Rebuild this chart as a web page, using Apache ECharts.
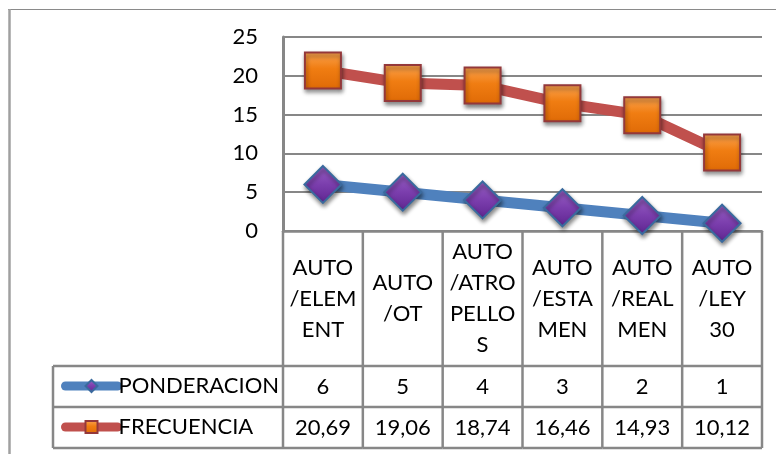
<!DOCTYPE html>
<html>
<head>
<meta charset="utf-8">
<script src="https://cdn.jsdelivr.net/npm/echarts@6/dist/echarts.min.js"></script>
<style>
html,body{margin:0;padding:0;background:#fff;}
#main{width:776px;height:454px;}
</style>
</head>
<body>
<div id="main"></div>
<script>
const categories = ['AUTO/ELEMENT', 'AUTO/OT', 'AUTO/ATROPELLOS', 'AUTO/ESTAMEN', 'AUTO/REALMEN', 'AUTO/LEY 30'];
const categoryLabels = ['AUTO\n/ELEM\nENT', 'AUTO\n/OT', 'AUTO\n/ATRO\nPELLO\nS', 'AUTO\n/ESTA\nMEN', 'AUTO\n/REAL\nMEN', 'AUTO\n/LEY\n30'];
const ponderacion = [6, 5, 4, 3, 2, 1];
const frecuencia = [20.69, 19.06, 18.74, 16.46, 14.93, 10.12];
const ponderacionText = ['6', '5', '4', '3', '2', '1'];
const frecuenciaText = ['20,69', '19,06', '18,74', '16,46', '14,93', '10,12'];
const yTicks = [0, 5, 10, 15, 20, 25];

const FONT = 'Lato';
const FS = 22;
const GRID_COLOR = '#878787';
const HEADER_H = 135;
const ROW_H = 41;
const LEGEND_COL_W = 230;

const chart = echarts.init(document.getElementById('main'));

function renderTable(params, api) {
  const i = api.value(0);
  const p0 = api.coord([i, 0]);
  const w = api.size([1, 0])[0];
  const cx = p0[0];
  const y0 = p0[1];
  const xl = cx - w / 2;
  const xr = cx + w / 2;
  const yH = y0 + HEADER_H;
  const yR1 = yH + ROW_H;
  const yR2 = yR1 + ROW_H;
  const ls = { stroke: GRID_COLOR, lineWidth: 2.5 };
  const children = [
    { type: 'line', shape: { x1: xr, y1: y0, x2: xr, y2: yR2 }, style: ls },
    { type: 'line', shape: { x1: xl, y1: yH, x2: xr, y2: yH }, style: ls },
    { type: 'line', shape: { x1: xl, y1: yR1, x2: xr, y2: yR1 }, style: ls },
    { type: 'line', shape: { x1: xl, y1: yR2, x2: xr, y2: yR2 }, style: ls },
    { type: 'text', x: cx, y: (y0 + yH) / 2, style: { text: categoryLabels[i], fontFamily: FONT, fontSize: FS, lineHeight: 31, fill: '#000', align: 'center', verticalAlign: 'middle' } },
    { type: 'text', x: cx, y: (yH + yR1) / 2, style: { text: ponderacionText[i], fontFamily: FONT, fontSize: FS, fill: '#000', align: 'center', verticalAlign: 'middle' } },
    { type: 'text', x: cx, y: (yR1 + yR2) / 2, style: { text: frecuenciaText[i], fontFamily: FONT, fontSize: FS, fill: '#000', align: 'center', verticalAlign: 'middle' } }
  ];
  if (i === 0) {
    const xL = xl - LEGEND_COL_W;
    children.push(
      { type: 'line', shape: { x1: xl, y1: y0, x2: xl, y2: yR2 }, style: ls },
      { type: 'line', shape: { x1: xL, y1: yH, x2: xl, y2: yH }, style: ls },
      { type: 'line', shape: { x1: xL, y1: yR1, x2: xl, y2: yR1 }, style: ls },
      { type: 'line', shape: { x1: xL, y1: yR2, x2: xl, y2: yR2 }, style: ls },
      { type: 'line', shape: { x1: xL, y1: yH, x2: xL, y2: yR2 }, style: ls }
    );
  }
  return { type: 'group', children: children };
}

const option = {
  backgroundColor: '#fff',
  animation: false,
  textStyle: { fontFamily: FONT },
  grid: { left: 283, right: 14, top: 37, bottom: 223 },
  legend: {
    data: ['PONDERACION', 'FRECUENCIA'],
    orient: 'vertical',
    left: 61,
    top: 375,
    padding: 0,
    itemWidth: 52,
    itemHeight: 15,
    itemGap: 19,
    textStyle: { fontFamily: FONT, fontSize: FS, color: '#000', lineHeight: 22, padding: [0, 0, 0, -4] },
    lineStyle: { width: 9, cap: 'round' },
    selectedMode: false
  },
  xAxis: {
    type: 'category',
    data: categories,
    boundaryGap: true,
    axisLine: { show: true, lineStyle: { color: GRID_COLOR, width: 2.5 } },
    axisTick: { show: false },
    axisLabel: { show: false },
    splitLine: { show: false }
  },
  yAxis: {
    type: 'value',
    min: 0,
    max: 25,
    interval: 5,
    axisLine: { show: true, lineStyle: { color: GRID_COLOR, width: 3 } },
    axisTick: { show: false },
    axisLabel: {
      margin: 25,
      fontFamily: FONT,
      fontSize: FS,
      color: '#000',
      formatter: function (v) { return yTicks.indexOf(v) >= 0 ? String(v) : ''; }
    },
    splitLine: { show: true, lineStyle: { color: GRID_COLOR, width: 2 } }
  },
  series: [
    {
      name: 'PONDERACION',
      type: 'line',
      data: ponderacion,
      symbol: 'diamond',
      symbolSize: [37, 37],
      z: 3,
      lineStyle: { color: '#4F81BD', width: 11 },
      itemStyle: {
        color: new echarts.graphic.LinearGradient(0, 0, 0, 1, [
          { offset: 0, color: '#9A62C6' },
          { offset: 0.5, color: '#7B3EAD' },
          { offset: 1, color: '#5E2590' }
        ]),
        borderColor: '#3A6A9E',
        borderWidth: 2,
        shadowBlur: 4,
        shadowOffsetY: 3,
        shadowOffsetX: 1,
        shadowColor: 'rgba(0,0,0,0.45)'
      }
    },
    {
      name: 'FRECUENCIA',
      type: 'line',
      data: frecuencia,
      symbol: 'rect',
      symbolSize: [36, 36],
      z: 4,
      lineStyle: { color: '#C0504D', width: 11 },
      itemStyle: {
        color: new echarts.graphic.LinearGradient(0, 0, 0, 1, [
          { offset: 0, color: '#FBA552' },
          { offset: 0.45, color: '#F07D12' },
          { offset: 1, color: '#DF6A06' }
        ]),
        borderColor: '#94383A',
        borderWidth: 2,
        shadowBlur: 4,
        shadowOffsetY: 3,
        shadowOffsetX: 1,
        shadowColor: 'rgba(0,0,0,0.45)'
      }
    },
    {
      name: 'table',
      type: 'custom',
      data: categories.map(function (c, i) { return [i, 0]; }),
      encode: { x: 0, y: 1 },
      clip: false,
      silent: true,
      z: 1,
      renderItem: renderTable
    }
  ],
  graphic: [
    { type: 'line', shape: { x1: 8, y1: 9.5, x2: 776, y2: 9.5 }, style: { stroke: '#8a8a8a', lineWidth: 1 } },
    { type: 'line', shape: { x1: 9.5, y1: 9, x2: 9.5, y2: 454 }, style: { stroke: '#a0a0a0', lineWidth: 2.5 } }
  ]
};

chart.setOption(option);
</script>
</body>
</html>
